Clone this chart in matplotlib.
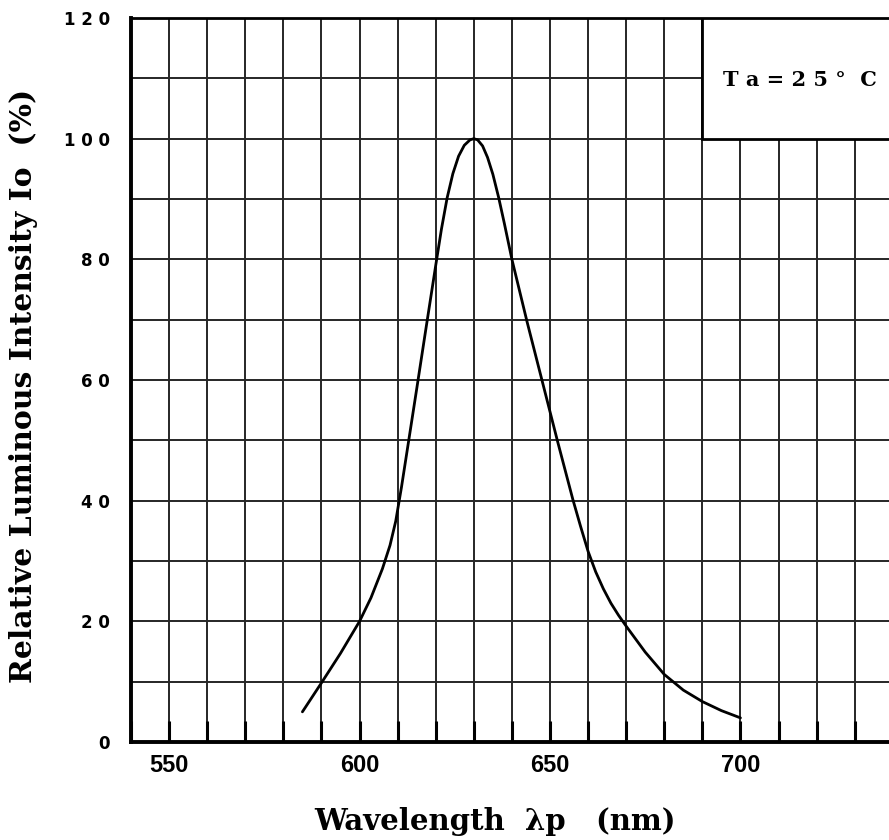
import matplotlib.pyplot as plt
from matplotlib.patches import Rectangle

# values
wavelength = [585, 590, 595, 600, 603, 606, 608, 609.5, 611, 612.5, 615, 617.5, 620,
              621.5, 623, 624.5, 626, 627.5, 629, 630, 631, 632.3, 633.6, 635, 636.5, 638, 640,
              644, 648, 652, 656, 658, 660, 662, 664, 666, 668, 670, 675, 680, 685, 690, 695, 700]
intensity = [5, 9.8, 14.7, 20, 23.9, 28.7, 32.6, 36.6, 42.2, 48.3, 58.5, 68.8, 79,
             85, 90.2, 94.2, 97.1, 98.9, 99.8, 100, 99.8, 98.8, 96.9, 94.1, 90.3, 86, 80,
             69.6, 59.7, 49.8, 40.2, 35.8, 31.6, 28.2, 25.4, 23, 21, 19.2, 14.9, 11.2, 8.6, 6.7, 5.2, 4]

x_ticks = [550, 600, 650, 700]
y_ticks = [0, 20, 40, 60, 80, 100, 120]
y_tick_labels = ['0', '2 0', '4 0', '6 0', '8 0', '1 0 0', '1 2 0']

fig = plt.figure(figsize=(8.89, 8.40), dpi=100)
ax = fig.add_axes([131 / 889, 1 - 742 / 840, 1 - 131 / 889, (742 - 18) / 840])

ax.plot(wavelength, intensity, color='black', lw=2, zorder=4,
        solid_joinstyle='round', solid_capstyle='round')

ax.set_xlim(540, 739)
ax.set_ylim(0, 120)

# grid every 10 nm / 10 %
ax.grid(True, which='major', color='#262626', lw=1.4)
ax.set_axisbelow(True)

xt = list(range(540, 740, 10))
ax.set_xticks(xt)
ax.set_xticklabels([str(v) if v in x_ticks else '' for v in xt],
                   fontsize=17, fontweight='bold', family='Liberation Sans')
yt = list(range(0, 130, 10))
ax.set_yticks(yt)
ax.set_yticklabels([y_tick_labels[y_ticks.index(v)] if v in y_ticks else '' for v in yt],
                   fontsize=12, fontweight='bold', family='DejaVu Sans')

ax.tick_params(axis='x', direction='in', length=15, width=2.2, pad=9, colors='black')
ax.tick_params(axis='y', length=0, pad=15)

for s in ['left', 'bottom']:
    ax.spines[s].set_linewidth(2.8)
ax.spines['top'].set_linewidth(2)
ax.spines['right'].set_visible(False)

# condition box in the upper right corner
ax.add_patch(Rectangle((690, 100), 60, 20, facecolor='white', edgecolor='black', lw=2, zorder=3))
ax.text(695.5, 109.7, 'T a = 2 5 °  C', fontsize=15, fontweight='bold', family='DejaVu Serif',
        va='center', ha='left', zorder=5)

fig.text(495 / 889, 1 - 822 / 840, 'Wavelength  λp   (nm)', fontsize=21, fontweight='bold',
         family='DejaVu Serif', ha='center', va='center')
fig.text(24 / 889, 1 - 386 / 840, 'Relative Luminous Intensity Io  (%)', fontsize=21.5,
         fontweight='bold', family='DejaVu Serif', rotation=90, ha='center', va='center')

fig.savefig('out.png', dpi=100, facecolor='white')
